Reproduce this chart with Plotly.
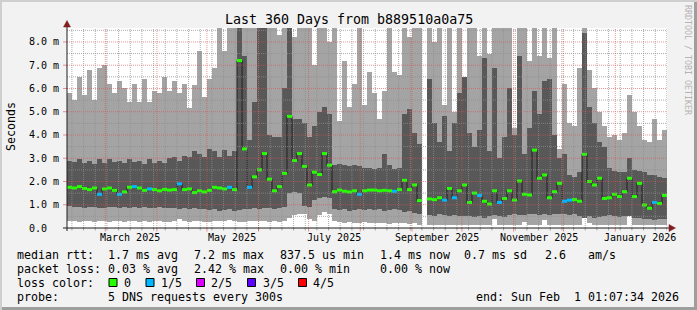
import math
from datetime import datetime, timedelta
import plotly.graph_objects as go

nan = float("nan")

# ---------------- data (3-day steps, 120 steps = 360 days) ----------------
END = datetime(2026, 2, 1, 1, 7, 34)
DAYS = 360
STEP_DAYS = 3
START = END - timedelta(days=DAYS)

# lowest ping of each step (top of white bottom band), ms
ping_min = [
    0.28, 0.30, 0.27, 0.28, 0.30, 0.25, 0.28, 0.30, 0.27, 0.28,
    0.30, 0.26, 0.28, 0.30, 0.27, 0.28, 0.25, 0.28, 0.30, 0.27,
    0.27, 0.28, 0.40, 0.28, 0.27, 0.30, 0.28, 0.27, 0.25, 0.30,
    0.28, 0.30, 0.35, 0.28, 0.25, 0.27, 0.30, 0.28, 0.32, 0.30,
    0.25, 0.28, 0.25, 0.30, 0.45, 0.55, 0.60, 0.62, 0.40, 0.30,
    0.55, 0.68, 0.60, 0.30, 0.25, 0.22, 0.25, 0.20, 0.22, 0.25,
    0.22, 0.20, 0.22, 0.20, 0.18, 0.20, 0.22, 0.20, 0.18, 0.20,
    0.15, nan, 0.13, 0.15, 0.12, 0.13, 0.15, 0.12, 0.13, 0.15,
    0.12, 0.15, 0.13, 0.12, 0.15, 0.40, 0.13, 0.12, 0.15, 0.13,
    0.15, 0.25, 0.13, 0.12, 0.15, 0.35, 0.13, 0.12, 0.15, 0.13,
    0.13, 0.12, 0.15, 0.55, 0.20, 0.15, 0.12, 0.13, 0.15, 0.12,
    0.13, 0.15, 0.70, 0.15, 0.13, 0.12, 0.15, 0.13, 0.12, 0.15,
]
# 2nd ping (bottom of dark band), ms
ping_low = [
    0.95, 0.92, 0.90, 0.88, 0.92, 0.90, 0.85, 0.88, 0.92, 0.90,
    0.85, 0.90, 0.88, 0.92, 0.85, 0.90, 0.88, 0.85, 0.90, 0.88,
    0.85, 0.88, 0.82, 0.85, 0.80, 0.85, 0.82, 0.80, 0.78, 0.80,
    0.75, 0.78, 0.80, 0.75, 0.78, 0.82, 0.80, 0.85, 0.82, 0.85,
    0.85, 0.82, 0.85, 0.90, 1.50, 1.55, 1.50, 0.95, 0.90, 1.20,
    1.30, 1.35, 1.30, 0.80, 0.78, 0.80, 0.75, 0.78, 0.80, 0.78,
    0.80, 0.78, 0.80, 0.75, 0.78, 0.80, 0.76, 0.70, 0.72, 0.65,
    0.60, nan, 0.55, 0.50, 0.60, 0.55, 0.50, 0.55, 0.50, 0.52,
    0.50, 0.48, 0.52, 0.45, 0.50, 0.55, 0.50, 0.48, 0.55, 0.60,
    0.58, 0.55, 0.60, 0.62, 0.58, 0.60, 0.55, 0.60, 0.62, 0.60,
    0.55, 0.60, 0.50, 0.45, 0.50, 0.42, 0.48, 0.50, 0.55, 0.50,
    0.48, 0.52, 0.50, 0.45, 0.42, 0.38, 0.40, 0.35, 0.38, 0.40,
]
# 4th ping (top of dark band), ms
ping_high = [
    2.90, 2.85, 2.95, 2.80, 2.90, 2.75, 2.95, 2.80, 2.95, 2.85,
    2.90, 2.80, 2.95, 2.85, 2.90, 2.75, 2.95, 2.80, 2.90, 2.80,
    3.00, 3.05, 2.90, 3.10, 3.05, 3.30, 3.20, 3.05, 3.40, 3.30,
    3.05, 3.35, 3.10, 3.30, 8.60, 7.40, 3.80, 5.40, 8.60, 8.60,
    4.00, 3.90, 3.90, 6.00, 8.60, 4.70, 4.70, 4.50, 3.90, 4.40,
    5.00, 5.20, 4.90, 2.70, 2.75, 2.70, 2.65, 2.70, 2.65, 2.60,
    2.60, 2.55, 2.60, 3.20, 2.70, 2.55, 2.60, 4.90, 5.10, 4.10,
    3.60, nan, 6.40, 4.50, 3.70, 4.80, 3.30, 4.50, 5.80, 6.50,
    4.10, 3.50, 4.20, 7.30, 3.30, 6.90, 3.00, 3.90, 6.00, 4.00,
    7.40, 3.20, 4.30, 5.90, 4.90, 6.30, 6.40, 4.00, 3.00, 3.20,
    2.30, 2.20, 2.40, 8.40, 5.20, 4.50, 3.70, 3.50, 2.60, 2.45,
    2.40, 2.40, 3.00, 2.50, 2.45, 2.40, 2.30, 2.30, 2.20, 2.15,
]
# highest ping of each step (top of light band), ms
ping_max = [
    5.80, 5.50, 6.50, 5.70, 6.80, 5.50, 6.90, 7.00, 6.20, 5.80,
    6.30, 6.00, 5.40, 6.20, 5.40, 6.40, 5.40, 5.90, 5.80, 6.50,
    5.90, 6.30, 5.80, 6.20, 5.15, 6.15, 7.60, 5.65, 6.40, 6.90,
    8.60, 7.60, 8.60, 8.60, 8.60, 8.60, 8.60, 8.60, 8.60, 8.60,
    8.60, 8.60, 8.30, 8.60, 8.60, 8.20, 8.60, 8.60, 8.60, 7.00,
    8.60, 8.60, 8.00, 8.60, 4.60, 7.20, 5.20, 6.20, 8.60, 5.30,
    6.70, 5.80, 4.70, 5.90, 8.60, 6.70, 6.60, 8.60, 8.20, 8.60,
    8.60, nan, 8.60, 8.00, 8.60, 5.30, 8.60, 5.00, 8.60, 5.90,
    8.60, 8.60, 7.40, 8.60, 7.50, 8.60, 8.60, 8.60, 8.60, 4.30,
    8.60, 8.60, 7.20, 8.60, 7.40, 8.60, 7.30, 8.60, 3.40, 6.20,
    4.50, 4.40, 6.90, 8.60, 6.80, 6.00, 5.00, 4.40, 3.90, 4.00,
    3.80, 4.10, 5.70, 5.00, 4.40, 3.80, 3.70, 4.70, 3.80, 4.20,
]
# median rtt, ms
median_ms = [
    1.75, 1.72, 1.78, 1.70, 1.65, 1.72, 1.45, 1.68, 1.72, 1.62,
    1.45, 1.55, 1.75, 1.78, 1.72, 1.62, 1.68, 1.65, 1.60, 1.66,
    1.63, 1.65, 1.90, 1.65, 1.68, 1.52, 1.60, 1.55, 1.62, 1.75,
    1.72, 1.68, 1.75, 1.65, 7.20, 3.40, 1.75, 2.20, 2.50, 3.20,
    2.10, 1.60, 1.78, 2.35, 4.80, 2.90, 3.20, 2.65, 1.85, 2.40,
    2.30, 3.20, 2.70, 1.56, 1.63, 1.58, 1.55, 1.60, 1.45, 1.60,
    1.63, 1.63, 1.60, 1.62, 1.60, 1.58, 1.65, 2.05, 1.65, 1.85,
    1.18, nan, 1.25, 1.22, 1.30, 1.20, 1.70, 1.30, 1.60, 1.85,
    1.10, 1.50, 1.40, 1.15, 1.03, 1.60, 1.10, 1.27, 1.60, 1.20,
    2.02, 1.45, 1.42, 3.35, 2.14, 2.28, 1.30, 1.56, 1.92, 1.15,
    1.20, 1.22, 1.15, 3.17, 2.00, 1.85, 2.14, 1.27, 1.30, 1.45,
    1.35, 1.56, 2.14, 1.35, 1.92, 0.99, 0.85, 1.10, 1.05, 1.40,
]
# lost pings out of 5 per step
lost_pings = [
    0, 0, 0, 0, 0, 0, 1, 0, 0, 0,
    1, 0, 0, 1, 0, 0, 1, 0, 0, 0,
    0, 0, 1, 0, 0, 0, 0, 0, 0, 0,
    0, 0, 1, 0, 0, 0, 1, 0, 0, 0,
    0, 0, 0, 0, 0, 0, 0, 0, 0, 0,
    0, 0, 0, 0, 0, 0, 0, 0, 1, 0,
    0, 0, 0, 0, 0, 1, 0, 0, 0, 0,
    0, 0, 0, 0, 0, 1, 0, 1, 0, 0,
    0, 0, 1, 0, 0, 0, 1, 0, 0, 0,
    0, 0, 0, 0, 0, 0, 0, 0, 0, 1,
    1, 0, 0, 0, 0, 0, 0, 0, 0, 0,
    0, 0, 0, 0, 0, 0, 0, 1, 0, 0,
]

month_labels = ["March 2025", "May 2025", "July 2025", "September 2025", "November 2025", "January 2026"]
month_label_dates = ["2025-03-16", "2025-05-16", "2025-07-16", "2025-09-16", "2025-11-16", "2026-01-16"]
y_tick_values = [0, 1, 2, 3, 4, 5, 6, 7, 8]
y_tick_texts = ["0.0", "1.0 m", "2.0 m", "3.0 m", "4.0 m", "5.0 m", "6.0 m", "7.0 m", "8.0 m"]

loss_colors = ["#26ff00", "#00b8ff", "#dd00ff", "#5e00ff", "#ff0000"]
loss_labels = ["0", "1/5", "2/5", "3/5", "4/5"]

title_text = "Last 360 Days from b889510a0a75"
rtt_items = ["median rtt:  1.7 ms avg", "7.2 ms max", "837.5 us min", "1.4 ms now", "0.7 ms sd", "2.6", "am/s"]
loss_items = ["packet loss: 0.03 % avg", "2.42 % max", "0.00 % min", "0.00 % now"]
probe_text = "probe:       5 DNS requests every 300s"
end_text = "end: Sun Feb  1 01:07:34 2026"

# ---------------- geometry helpers ----------------
W, H = 697, 310
PL, PR, PT, PB = 67, 667, 28, 228
YMAX = 8.6
FONT = "DejaVu Sans Mono"
LEG = 11.63


def px(xp):
    return (xp - PL) / (PR - PL)


def py(yp):
    return (PB - yp) / (PB - PT)


def nb(s):
    return s.replace(" ", "\u00a0")


n = len(median_ms)
step_ms = STEP_DAYS * 86400 * 1000
centers = [START + timedelta(days=STEP_DAYS * (i + 0.5)) for i in range(n)]
starts = [START + timedelta(days=STEP_DAYS * i) for i in range(n)]
ends = [START + timedelta(days=STEP_DAYS * (i + 1)) for i in range(n)]

fig = go.Figure()

# light smoke: min .. max
fig.add_trace(go.Bar(
    x=centers, base=ping_min,
    y=[b - a for a, b in zip(ping_min, ping_max)],
    width=[step_ms * 1.01] * n,
    marker=dict(color="#a4a4a4", line=dict(width=0)),
    hoverinfo="skip",
))
# dark smoke: 2nd .. 4th ping
fig.add_trace(go.Bar(
    x=centers, base=ping_low,
    y=[b - a for a, b in zip(ping_low, ping_high)],
    width=[step_ms * 1.01] * n,
    marker=dict(color="#585858", line=dict(width=0)),
    hoverinfo="skip",
))
# median line (step)
fig.add_trace(go.Scatter(
    x=starts + [END], y=median_ms + [median_ms[-1]],
    mode="lines", line=dict(color="#202020", width=1, shape="hv"),
    connectgaps=False, hoverinfo="skip",
))
# loss-coloured median marks, one trace per loss level
for level, col in enumerate(loss_colors):
    xs, ys = [], []
    for i in range(n):
        if lost_pings[i] == level and not math.isnan(median_ms[i]):
            xs += [starts[i], ends[i], None]
            ys += [median_ms[i], median_ms[i], None]
    if xs:
        fig.add_trace(go.Scatter(x=xs, y=ys, mode="lines",
                                 line=dict(color=col, width=3),
                                 connectgaps=False, hoverinfo="skip"))

shapes = []
GRID = "rgba(143,143,143,0.75)"
MGRID = "rgba(222,79,79,0.6)"
DASH = "1px,1px"

# horizontal grid
for k in range(1, 18, 2):
    v = k * 0.5
    shapes.append(dict(type="line", xref="paper", yref="y", x0=0, x1=1, y0=v, y1=v,
                       line=dict(color=GRID, width=1, dash=DASH), layer="above"))
for v in range(1, 9):
    shapes.append(dict(type="line", xref="paper", yref="y", x0=0, x1=1, y0=v, y1=v,
                       line=dict(color=MGRID, width=1, dash=DASH), layer="above"))
    shapes.append(dict(type="line", xref="paper", yref="y", x0=px(63), x1=px(67), y0=v, y1=v,
                       line=dict(color=MGRID, width=1), layer="above"))
# vertical grid: weeks (Sundays) and months
d = datetime(2025, 2, 9)
while d < END:
    shapes.append(dict(type="line", xref="x", yref="paper", x0=d, x1=d, y0=0, y1=1,
                       line=dict(color=GRID, width=1, dash=DASH), layer="above"))
    shapes.append(dict(type="line", xref="x", yref="paper", x0=d, x1=d, y0=py(228), y1=py(230.5),
                       line=dict(color=GRID, width=1), layer="above"))
    d += timedelta(days=7)
for (yy, mm) in [(2025, 3), (2025, 4), (2025, 5), (2025, 6), (2025, 7), (2025, 8), (2025, 9),
                 (2025, 10), (2025, 11), (2025, 12), (2026, 1)]:
    d = datetime(yy, mm, 1)
    shapes.append(dict(type="line", xref="x", yref="paper", x0=d, x1=d, y0=0, y1=1,
                       line=dict(color=MGRID, width=1, dash=DASH), layer="above"))
    shapes.append(dict(type="line", xref="x", yref="paper", x0=d, x1=d, y0=py(228), y1=py(231.5),
                       line=dict(color=MGRID, width=1), layer="above"))

AX = "#1f1f1f"
ARROW = "#801f1f"
# axes
shapes.append(dict(type="line", xref="paper", yref="paper", x0=px(67), x1=px(67), y0=py(231), y1=py(25),
                   line=dict(color=AX, width=1), layer="above"))
shapes.append(dict(type="line", xref="paper", yref="paper", x0=px(63), x1=px(671), y0=py(228), y1=py(228),
                   line=dict(color=AX, width=1), layer="above"))
shapes.append(dict(type="path", xref="paper", yref="paper",
                   path=f"M {px(63.5)} {py(27)} L {px(70.5)} {py(27)} L {px(67)} {py(20.5)} Z",
                   fillcolor=ARROW, line=dict(color=ARROW, width=0.5), layer="above"))
shapes.append(dict(type="path", xref="paper", yref="paper",
                   path=f"M {px(669)} {py(224.5)} L {px(669)} {py(231.5)} L {px(675.5)} {py(228)} Z",
                   fillcolor=ARROW, line=dict(color=ARROW, width=0.5), layer="above"))

# 3D border
shapes.append(dict(type="rect", xref="paper", yref="paper", x0=px(0), x1=px(697), y0=py(0), y1=py(2),
                   fillcolor="#cfcfcf", line=dict(width=0)))
shapes.append(dict(type="rect", xref="paper", yref="paper", x0=px(0), x1=px(2), y0=py(0), y1=py(310),
                   fillcolor="#cfcfcf", line=dict(width=0)))
shapes.append(dict(type="rect", xref="paper", yref="paper", x0=px(2), x1=px(697), y0=py(307), y1=py(310),
                   fillcolor="#9e9e9e", line=dict(width=0)))
shapes.append(dict(type="rect", xref="paper", yref="paper", x0=px(694), x1=px(697), y0=py(2), y1=py(310),
                   fillcolor="#9e9e9e", line=dict(width=0)))

# loss colour legend boxes
box_x = [109, 146, 196.5, 247.5, 298.5]
label_x = [123, 160, 210, 261.5, 311.5]
for bx, col in zip(box_x, loss_colors):
    shapes.append(dict(type="rect", xref="paper", yref="paper", x0=px(bx), x1=px(bx + 8),
                       y0=py(278.5), y1=py(286.5), fillcolor=col,
                       line=dict(color="#000000", width=1)))

ann = []


def text(x, y, s, size, anchor="left", color="#000000", angle=0, xref="paper", yref="paper", yanchor="middle"):
    ann.append(dict(x=x, y=y, xref=xref, yref=yref, text=nb(s), showarrow=False,
                    xanchor=anchor, yanchor=yanchor, textangle=angle, borderpad=0,
                    font=dict(family=FONT, size=size, color=color)))


text(px(348.5), py(19.5), title_text, 13.3, anchor="center")
for v, t in zip(y_tick_values, y_tick_texts):
    ann.append(dict(x=px(28), y=v, xref="paper", yref="y", text=nb(t), showarrow=False,
                    xanchor="left", yanchor="middle", borderpad=0,
                    font=dict(family=FONT, size=10, color="#000000")))
for t, dt in zip(month_labels, month_label_dates):
    ann.append(dict(x=dt, y=py(237.5), xref="x", yref="paper", text=nb(t), showarrow=False,
                    xanchor="center", yanchor="middle", borderpad=0,
                    font=dict(family=FONT, size=10, color="#000000")))
text(px(11), py(127), "Seconds", 11.6, anchor="center", angle=-90)
text(px(688), py(60), "RRDTOOL / TOBI OETIKER", 8.3, anchor="center", angle=90, color="#b4b4b4")

rtt_x = [16, 192.5, 279, 379, 463, 543.5, 587]
for xx, s in zip(rtt_x, rtt_items):
    text(px(xx), py(254.5), s, LEG)
loss_x = [16, 192.5, 279, 379]
for xx, s in zip(loss_x, loss_items):
    text(px(xx), py(268.5), s, LEG)
text(px(16), py(282.5), "loss color:", LEG)
for lx, lt in zip(label_x, loss_labels):
    text(px(lx), py(282.5), lt, LEG)
text(px(16), py(296.5), probe_text, LEG)
text(px(680), py(296.5), end_text, LEG, anchor="right")

fig.update_layout(
    width=W, height=H, autosize=False,
    margin=dict(l=PL, r=W - PR, t=PT, b=H - PB, pad=0),
    paper_bgcolor="#f2f2f2", plot_bgcolor="#ffffff",
    showlegend=False, barmode="overlay", bargap=0,
    xaxis=dict(type="date", range=[START, END], showgrid=False, zeroline=False,
               showticklabels=False, ticks="", showline=False, fixedrange=True),
    yaxis=dict(range=[0, YMAX], showgrid=False, zeroline=False,
               showticklabels=False, ticks="", showline=False, fixedrange=True),
    shapes=shapes, annotations=ann,
)

fig.write_html("out.html")
